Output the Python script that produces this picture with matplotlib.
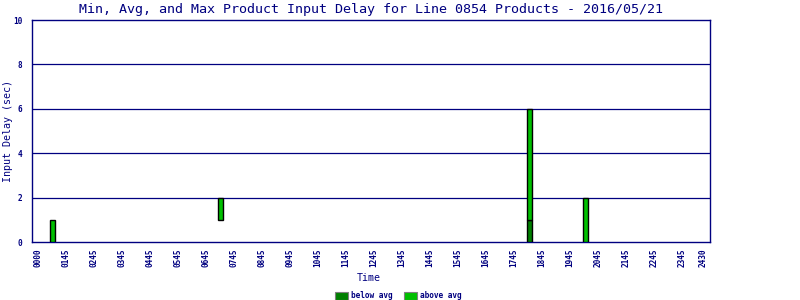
import matplotlib
matplotlib.use("Agg")
import matplotlib.pyplot as plt
from matplotlib.patches import Rectangle
import numpy as np

# ---- data ----
tick_labels = ["0000", "0145", "0245", "0345", "0445", "0545", "0645", "0745",
               "0845", "0945", "1045", "1145", "1245", "1345", "1445", "1545",
               "1645", "1745", "1845", "1945", "2045", "2145", "2245", "2345", "2430"]
tick_pos = list(range(24)) + [23.75]
bar_pos = [0.53, 6.53, 17.54, 19.54]
min_vals = [0, 1, 0, 0]
avg_vals = [0, 1, 1, 0]
max_vals = [1, 2, 6, 2]
y_ticks = [0, 2, 4, 6, 8, 10]

NAVY = "#000080"
DARK = "#008000"
LIGHT = "#00C000"
MONO = "DejaVu Sans Mono"

fig = plt.figure(figsize=(8, 3), dpi=100)
ax = fig.add_axes([32 / 800, 58 / 300, 678 / 800, 222 / 300])

below = np.array(avg_vals) - np.array(min_vals)
above = np.array(max_vals) - np.array(avg_vals)
w = 0.18
for x, mn, b, a in zip(bar_pos, min_vals, below, above):
    if b > 0:
        ax.bar(x, b, bottom=mn, width=w, color=DARK, edgecolor="black", linewidth=1.0, zorder=3)
    if a > 0:
        ax.bar(x, a, bottom=mn + b, width=w, color=LIGHT, edgecolor="black", linewidth=1.0, zorder=3)

ax.set_xlim(-0.214, 24.0)
ax.set_ylim(0, 10)
for yv in y_ticks[1:-1]:
    ax.axhline(yv, color=NAVY, linewidth=0.9, zorder=1)

ax.set_xticks(tick_pos)
ax.set_xticklabels(tick_labels, rotation=90, fontsize=5.6, fontweight="bold",
                   family=MONO, color=NAVY)
ax.set_yticks(y_ticks)
ax.set_yticklabels([str(v) for v in y_ticks], fontsize=5.6, fontweight="bold",
                   family=MONO, color=NAVY)
ax.tick_params(axis="both", length=0, pad=5)
ax.tick_params(axis="y", pad=7)

for s in ax.spines.values():
    s.set_color(NAVY)
    s.set_linewidth(1.0)

fig.text(371 / 800, 1 - 9 / 300,
         "Min, Avg, and Max Product Input Delay for Line 0854 Products - 2016/05/21",
         ha="center", va="center", fontsize=9.6, family=MONO, color=NAVY)
fig.text(369 / 800, 1 - 278 / 300, "Time", ha="center", va="center",
         fontsize=7.2, family=MONO, color=NAVY)
fig.text(8 / 800, 1 - 131 / 300, "Input Delay (sec)", ha="center", va="center",
         rotation=90, fontsize=7.2, family=MONO, color=NAVY)

# legend
for (x0, col, lab) in [(335, DARK, "below avg"), (404, LIGHT, "above avg")]:
    fig.patches.append(Rectangle((x0 / 800, 1 - 299.5 / 300), 13 / 800, 8 / 300,
                                 transform=fig.transFigure, facecolor=col,
                                 edgecolor="#808080", linewidth=0.8))
    fig.text((x0 + 16) / 800, 1 - 295.5 / 300, lab, ha="left", va="center",
             fontsize=5.6, fontweight="bold", family=MONO, color=NAVY)

fig.savefig("out.png", dpi=100)
